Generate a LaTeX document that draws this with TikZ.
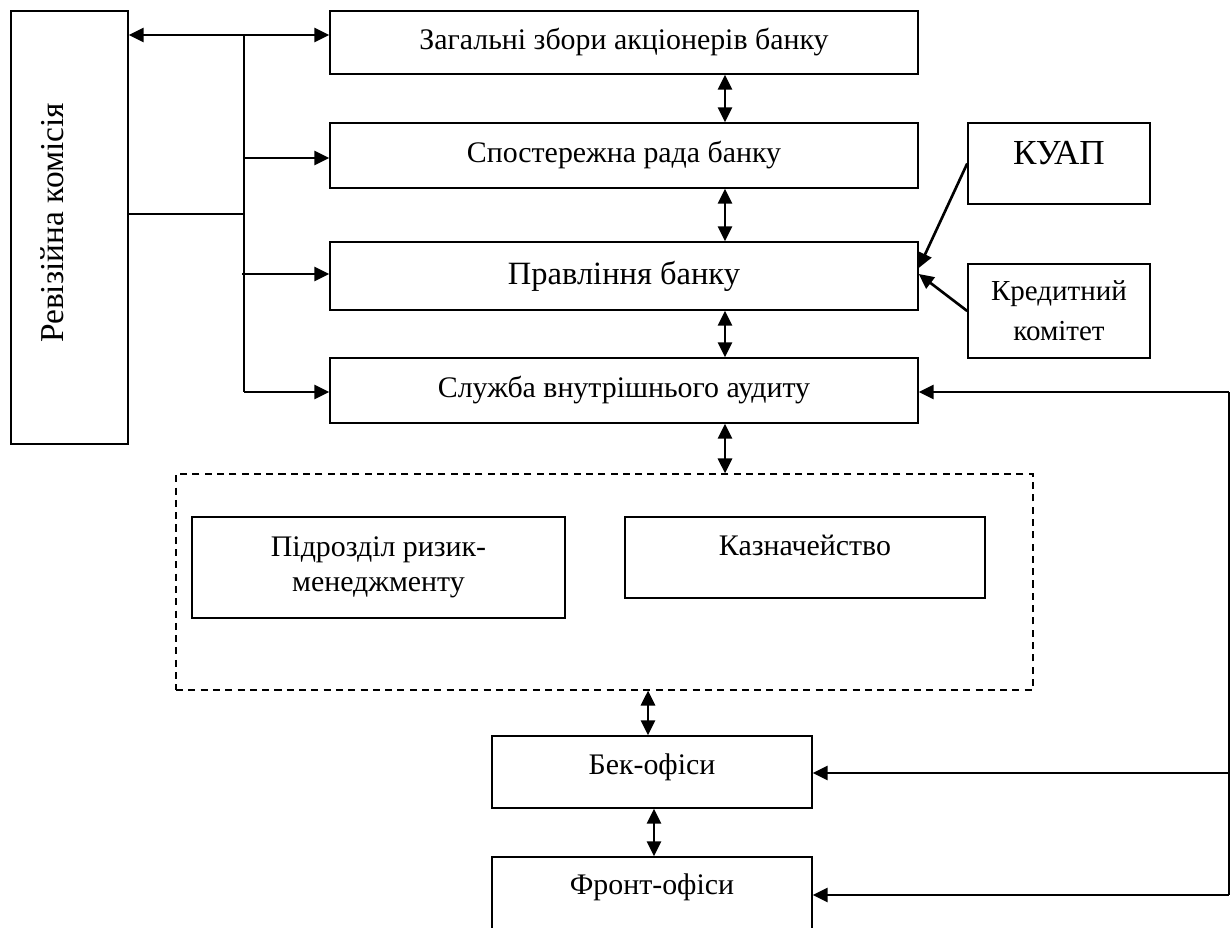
\documentclass[tikz,border=0pt]{standalone}
\usepackage{fontspec}
\setmainfont{Liberation Serif}
\usetikzlibrary{arrows.meta}
\begin{document}
\begin{tikzpicture}[x=0.02cm,y=-0.02cm,
  box/.style={draw,line width=0.9pt,inner sep=0pt,align=center,font=\fontsize{17}{20}\selectfont},
  link/.style={line width=1.5pt,>={Triangle[length=8.5pt,width=8pt]}}]
\useasboundingbox (0,0) rectangle (1231,928);
% boxes
\node[box,minimum width=2.34cm,minimum height=8.66cm] at (69.5,227.5) (rev) {};
\node[rotate=90,font=\fontsize{19}{22}\selectfont] at (52,223) (revtext) {Ревізійна комісія};
\node[box,minimum width=11.76cm,minimum height=1.26cm] at (624,42.5) (gen) {Загальні збори акціонерів банку};
\node[box,minimum width=11.76cm,minimum height=1.3cm] at (624,155.5) (sp) {Спостережна рада банку};
\node[box,minimum width=11.76cm,minimum height=1.36cm,font=\fontsize{18.5}{22}\selectfont] at (624,276) (pr) {Правління банку};
\node[box,minimum width=11.76cm,minimum height=1.3cm] at (624,390.5) (audit) {Служба внутрішнього аудиту};
\node[box,minimum width=3.64cm,minimum height=1.62cm,text depth=0.42cm,font=\fontsize{20}{24}\selectfont] at (1059,163.5) (kuap) {КУАП};
\node[box,minimum width=3.64cm,minimum height=1.88cm,font=\fontsize{16.5}{22.7}\selectfont] at (1059,311) (kred) {Кредитний\\комітет};
\node[draw,dash pattern=on 4pt off 3pt,line width=0.7pt,minimum width=17.14cm,minimum height=4.32cm] at (604.5,582) (grp) {};
\node[box,minimum width=7.46cm,minimum height=2.02cm] at (378.5,567.5) (risk) {Підрозділ ризик-\\менеджменту};
\node[box,minimum width=7.2cm,minimum height=1.62cm,text depth=0.5cm] at (805,557.5) (kazn) {Казначейство};
\node[box,minimum width=6.4cm,minimum height=1.44cm,text depth=0.33cm] at (652,772) (bek) {Бек-офіси};
\node[box,minimum width=6.4cm,minimum height=1.44cm,text depth=0.37cm] at (652,893) (front) {Фронт-офіси};
% left trunk
\coordinate (ttop) at (244,35);
\coordinate (tsp) at (244,158);
\coordinate (tmid) at (244,214);
\coordinate (tpr) at (242,274);
\coordinate (tbot) at (244,392);
\draw[link,<->] (rev.east |- ttop) -- (gen.west |- ttop);
\draw[link] (ttop) -- (tbot);
\draw[link] (rev.east |- tmid) -- (tmid);
\draw[link,->] (tsp) -- (tsp -| sp.west);
\draw[link,->] (tpr) -- (tpr -| pr.west);
\draw[link,->] (tbot) -- (tbot -| audit.west);
% middle column
\coordinate (axis) at (725,0);
\foreach \a/\b in {gen/sp,sp/pr,pr/audit,audit/grp}
  \draw[link,<->] (\a.south -| axis) -- (\b.north -| axis);
\coordinate (axisb) at (648,0);
\coordinate (axisc) at (654,0);
\draw[link,<->] (grp.south -| axisb) -- (bek.north -| axisb);
\draw[link,<->] (bek.south -| axisc) -- (front.north -| axisc);
% committees
\draw[link,->] (kuap.west) -- ([yshift=0.16cm]pr.east);
\draw[link,->] (kred.west) -- ([yshift=0.04cm]pr.east);
% right feed
\coordinate (ftop) at (1229,392);
\coordinate (fmid) at (1229,773);
\coordinate (fbot) at (1229,895);
\draw[link] (ftop) -- (fbot);
\draw[link,->] (ftop) -- (ftop -| audit.east);
\draw[link,->] (fmid) -- (fmid -| bek.east);
\draw[link,->] (fbot) -- (fbot -| front.east);
\end{tikzpicture}
\end{document}
